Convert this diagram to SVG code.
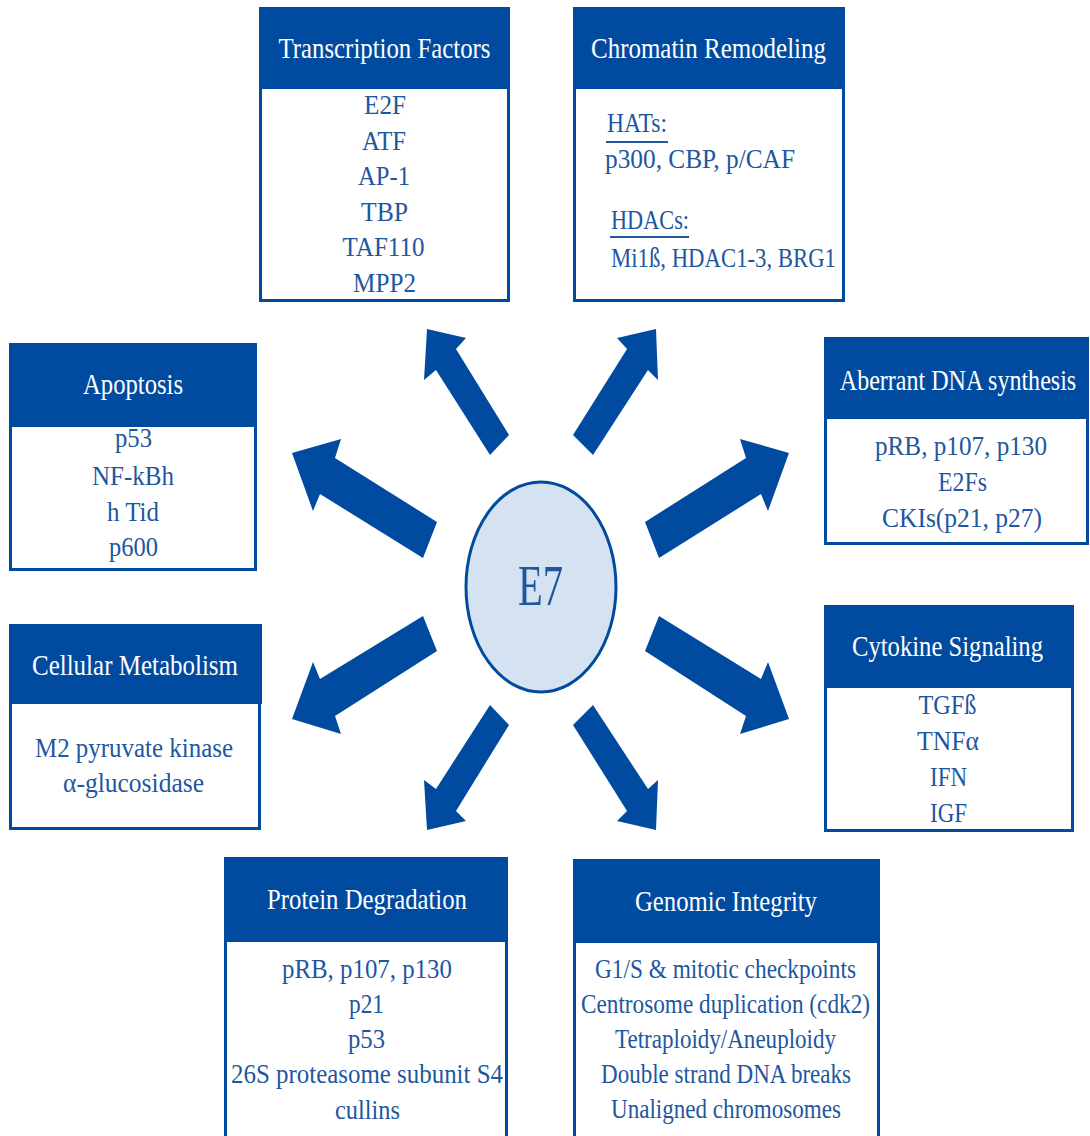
<svg xmlns="http://www.w3.org/2000/svg" width="1090" height="1136" viewBox="0 0 1090 1136">
  <style>
    .body { fill: #ffffff; stroke: #004b9f; stroke-width: 3; }
    .hdr { fill: #004b9f; }
    text { font-family: "Liberation Serif", "DejaVu Serif", "Times New Roman", Times, serif; }
    .ttl { fill: #ffffff; font-size: 29px; text-anchor: middle; }
    .itm { fill: #1e56a0; font-size: 27px; text-anchor: middle; }
    .lft { text-anchor: start; }
    .ul { stroke: #1e56a0; stroke-width: 2; }
    .arrow { fill: #004b9f; }
  </style>
  <rect width="1090" height="1136" fill="#ffffff"/>

  <!-- block arrows radiating from the centre -->
  <g id="connectors">
    <polygon class="arrow" points="509,435 456,349 466,338 427,329 424,380 436,370 490,455"/>
    <polygon class="arrow" points="573,435 627,349 617,338 656,329 658,380 648,370 593,455"/>
    <polygon class="arrow" points="437,522 335,458 341,439 292,453 313,511 320,494 423,558"/>
    <polygon class="arrow" points="645,522 746,458 740,439 789,453 768,511 761,494 659,558"/>
    <polygon class="arrow" points="423,616 320,679 313,662 292,719 341,734 335,716 437,651"/>
    <polygon class="arrow" points="659,616 761,679 768,662 789,719 740,734 746,716 645,651"/>
    <polygon class="arrow" points="490,705 436,789 424,780 427,830 466,821 456,811 509,725"/>
    <polygon class="arrow" points="593,705 648,789 658,780 656,830 617,821 627,811 573,725"/>
  </g>

  <!-- central node -->
  <g id="e7">
    <ellipse cx="541" cy="587" rx="75" ry="105" fill="#d5e2f1" stroke="#004b9f" stroke-width="3"/>
    <text x="540.5" y="605" font-size="57" fill="#1e56a0" text-anchor="middle" textLength="45" lengthAdjust="spacingAndGlyphs">E7</text>
  </g>

  <g id="transcription-factors">
    <rect class="body" x="260.5" y="8.5" width="248" height="292"/>
    <rect class="hdr" x="259" y="7" width="251" height="82"/>
    <text class="ttl" x="384.5" y="58" textLength="212" lengthAdjust="spacingAndGlyphs">Transcription Factors</text>
    <text class="itm" x="385" y="114" textLength="42" lengthAdjust="spacingAndGlyphs">E2F</text>
    <text class="itm" x="384" y="150" textLength="44" lengthAdjust="spacingAndGlyphs">ATF</text>
    <text class="itm" x="384" y="185" textLength="52" lengthAdjust="spacingAndGlyphs">AP-1</text>
    <text class="itm" x="384.5" y="221" textLength="47" lengthAdjust="spacingAndGlyphs">TBP</text>
    <text class="itm" x="383.5" y="256" textLength="82" lengthAdjust="spacingAndGlyphs">TAF110</text>
    <text class="itm" x="384.5" y="292" textLength="63" lengthAdjust="spacingAndGlyphs">MPP2</text>
  </g>

  <g id="chromatin-remodeling">
    <rect class="body" x="574.5" y="8.5" width="269" height="292"/>
    <rect class="hdr" x="573" y="7" width="272" height="82"/>
    <text class="ttl" x="708.5" y="58" textLength="235" lengthAdjust="spacingAndGlyphs">Chromatin Remodeling</text>
    <text class="itm lft" x="607" y="132" textLength="60" lengthAdjust="spacingAndGlyphs">HATs:</text>
    <line class="ul" x1="606" y1="142" x2="668" y2="142"/>
    <text class="itm lft" x="605" y="168" textLength="190" lengthAdjust="spacingAndGlyphs">p300, CBP, p/CAF</text>
    <text class="itm lft" x="611" y="229" textLength="78" lengthAdjust="spacingAndGlyphs">HDACs:</text>
    <line class="ul" x1="610" y1="237" x2="689" y2="237"/>
    <text class="itm lft" x="611" y="267" textLength="225" lengthAdjust="spacingAndGlyphs">Mi1ß, HDAC1-3, BRG1</text>
  </g>

  <g id="apoptosis">
    <rect class="body" x="10.5" y="344.5" width="245" height="225"/>
    <rect class="hdr" x="9" y="343" width="248" height="84"/>
    <text class="ttl" x="133" y="394" textLength="100" lengthAdjust="spacingAndGlyphs">Apoptosis</text>
    <text class="itm" x="133.5" y="447" textLength="37" lengthAdjust="spacingAndGlyphs">p53</text>
    <text class="itm" x="133" y="485" textLength="82" lengthAdjust="spacingAndGlyphs">NF-kBh</text>
    <text class="itm" x="133" y="521" textLength="52" lengthAdjust="spacingAndGlyphs">h Tid</text>
    <text class="itm" x="133.5" y="556" textLength="49" lengthAdjust="spacingAndGlyphs">p600</text>
  </g>

  <g id="aberrant-dna-synthesis">
    <rect class="body" x="825.5" y="338.5" width="262" height="205"/>
    <rect class="hdr" x="824" y="337" width="265" height="82"/>
    <!-- title narrowed with a horizontal scale so it stays inside the header -->
    <text class="ttl" transform="translate(958,390) scale(0.83,1)">Aberrant DNA synthesis</text>
    <text class="itm" x="961" y="455" textLength="172" lengthAdjust="spacingAndGlyphs">pRB, p107, p130</text>
    <text class="itm" x="962.5" y="491" textLength="49" lengthAdjust="spacingAndGlyphs">E2Fs</text>
    <text class="itm" x="962" y="527" textLength="160" lengthAdjust="spacingAndGlyphs">CKIs(p21, p27)</text>
  </g>

  <g id="cellular-metabolism">
    <rect class="body" x="10.5" y="625.5" width="249" height="203"/>
    <rect class="hdr" x="9" y="624" width="253" height="80"/>
    <text class="ttl" x="135" y="675" textLength="206" lengthAdjust="spacingAndGlyphs">Cellular Metabolism</text>
    <text class="itm" x="134" y="757" textLength="198" lengthAdjust="spacingAndGlyphs">M2 pyruvate kinase</text>
    <text class="itm" x="133.5" y="792" textLength="141" lengthAdjust="spacingAndGlyphs">α-glucosidase</text>
  </g>

  <g id="cytokine-signaling">
    <rect class="body" x="825.5" y="606.5" width="247" height="224"/>
    <rect class="hdr" x="824" y="605" width="250" height="83"/>
    <text class="ttl" x="947.5" y="656" textLength="191" lengthAdjust="spacingAndGlyphs">Cytokine Signaling</text>
    <text class="itm" x="947.5" y="714" textLength="58" lengthAdjust="spacingAndGlyphs">TGFß</text>
    <text class="itm" x="948" y="750" textLength="62" lengthAdjust="spacingAndGlyphs">TNFα</text>
    <text class="itm" x="948.5" y="786" textLength="37" lengthAdjust="spacingAndGlyphs">IFN</text>
    <text class="itm" x="948.5" y="822" textLength="37" lengthAdjust="spacingAndGlyphs">IGF</text>
  </g>

  <g id="protein-degradation">
    <rect class="body" x="225.5" y="858.5" width="281" height="290"/>
    <rect class="hdr" x="224" y="857" width="284" height="85"/>
    <text class="ttl" x="367" y="909" textLength="200" lengthAdjust="spacingAndGlyphs">Protein Degradation</text>
    <text class="itm" x="367" y="978" textLength="170" lengthAdjust="spacingAndGlyphs">pRB, p107, p130</text>
    <text class="itm" x="366.5" y="1013" textLength="35" lengthAdjust="spacingAndGlyphs">p21</text>
    <text class="itm" x="366.5" y="1048" textLength="37" lengthAdjust="spacingAndGlyphs">p53</text>
    <text class="itm" x="367" y="1083" textLength="272" lengthAdjust="spacingAndGlyphs">26S proteasome subunit S4</text>
    <text class="itm" x="367.5" y="1119" textLength="65" lengthAdjust="spacingAndGlyphs">cullins</text>
  </g>

  <g id="genomic-integrity">
    <rect class="body" x="574.5" y="860.5" width="304" height="290"/>
    <rect class="hdr" x="573" y="859" width="307" height="84"/>
    <text class="ttl" x="726" y="911" textLength="182" lengthAdjust="spacingAndGlyphs">Genomic Integrity</text>
    <text class="itm" x="725.5" y="978" textLength="261" lengthAdjust="spacingAndGlyphs">G1/S &amp; mitotic checkpoints</text>
    <text class="itm" x="725.5" y="1013" textLength="289" lengthAdjust="spacingAndGlyphs">Centrosome duplication (cdk2)</text>
    <text class="itm" x="725.5" y="1048" textLength="221" lengthAdjust="spacingAndGlyphs">Tetraploidy/Aneuploidy</text>
    <text class="itm" x="726" y="1083" textLength="250" lengthAdjust="spacingAndGlyphs">Double strand DNA breaks</text>
    <text class="itm" x="726" y="1118" textLength="230" lengthAdjust="spacingAndGlyphs">Unaligned chromosomes</text>
  </g>
</svg>
